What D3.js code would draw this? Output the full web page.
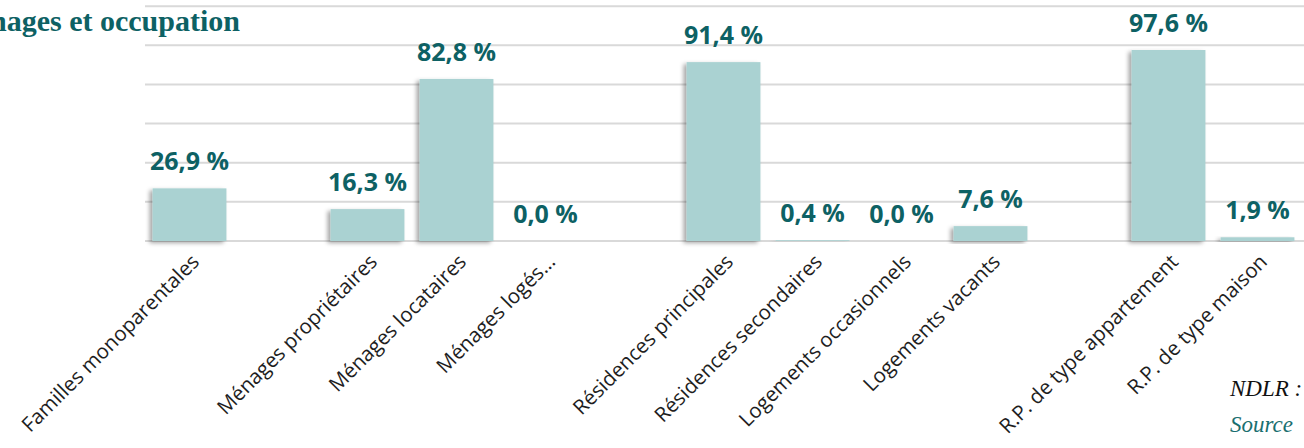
<!DOCTYPE html>
<html>
<head>
<meta charset="utf-8">
<script src="https://cdn.jsdelivr.net/npm/d3@7"></script>
<style>
  body { margin: 0; background: #fff; overflow: hidden; }
  svg { display: block; }
</style>
</head>
<body>
<div id="main"></div>
<script>
// Data
const categories = ['Familles monoparentales', null, 'Ménages propriétaires', 'Ménages locataires', 'Ménages logés…', null,
  'Résidences principales', 'Résidences secondaires', 'Logements occasionnels', 'Logements vacants', null,
  'R.P. de type appartement', 'R.P. de type maison'];
const values = [26.9, null, 16.3, 82.8, 0.0, null, 91.4, 0.4, 0.0, 7.6, null, 97.6, 1.9];
const gridTicks = [0, 20, 40, 60, 80, 100, 120];

const w = 1304;
const h = 448;
const base = 241;

const svg = d3.select('#main')
  .append('svg')
  .attr('width', w)
  .attr('height', h);

const defs = svg.append('defs');
const shadow = defs.append('filter').attr('id', 'shadow')
  .attr('x', '-20%').attr('y', '-20%').attr('width', '140%').attr('height', '140%');
shadow.append('feDropShadow')
  .attr('dx', -3).attr('dy', 2).attr('stdDeviation', 2)
  .attr('flood-color', '#000').attr('flood-opacity', 0.35);

const xScale = d3.scaleBand()
  .domain(d3.range(categories.length))
  .range([145, 1302])
  .paddingInner(0.17)
  .paddingOuter(0.085);

const yScale = d3.scaleLinear()
  .domain([0, 120])
  .range([base, base - 120 * 1.957]);

// gridlines
svg.append('g').selectAll('line')
  .data(gridTicks)
  .enter()
  .append('line')
  .attr('x1', 145)
  .attr('x2', w)
  .attr('y1', (d) => yScale(d))
  .attr('y2', (d) => yScale(d))
  .style('stroke', '#d9d9d9')
  .style('stroke-width', 2);

const items = categories.map((c, i) => ({ i: i, name: c, v: values[i] })).filter((d) => d.name !== null);

svg.append('g').selectAll('rect')
  .data(items)
  .enter()
  .append('rect')
  .attr('x', (d) => xScale(d.i))
  .attr('y', (d) => yScale(d.v))
  .attr('width', xScale.bandwidth())
  .attr('height', (d) => base - yScale(d.v))
  .style('fill', '#aad2d2')
  .attr('filter', 'url(#shadow)');

svg.append('g').selectAll('text')
  .data(items)
  .enter()
  .append('text')
  .attr('x', (d) => xScale(d.i) + xScale.bandwidth() / 2)
  .attr('y', (d) => yScale(d.v) - 18)
  .attr('text-anchor', 'middle')
  .style('font-family', '"Open Sans", sans-serif')
  .style('font-weight', 'bold')
  .style('font-size', '25px')
  .style('fill', '#0d6164')
  .text((d) => d3.format('.1f')(d.v).replace('.', ',') + ' %');

// category labels
svg.append('g').selectAll('text')
  .data(items)
  .enter()
  .append('text')
  .attr('transform', (d) => `translate(${xScale(d.i) + xScale.bandwidth() / 2 + 11}, 263) rotate(-45)`)
  .attr('text-anchor', 'end')
  .style('font-family', '"Open Sans", sans-serif')
  .style('font-size', '20.5px')
  .style('fill', '#1e1e1e')
  .text((d) => d.name);

// title, cut at the left edge
svg.append('text')
  .attr('x', 240)
  .attr('y', 31)
  .attr('text-anchor', 'end')
  .style('font-family', '"Liberation Serif", serif')
  .style('font-weight', 'bold')
  .style('font-size', '30px')
  .style('fill', '#0d6164')
  .text('Ménages et occupation');

svg.append('text')
  .attr('x', 1230)
  .attr('y', 396)
  .style('font-family', '"Liberation Serif", serif')
  .style('font-style', 'italic')
  .style('font-size', '23px')
  .style('fill', '#111')
  .text('NDLR :');

svg.append('text')
  .attr('x', 1230)
  .attr('y', 432)
  .style('font-family', '"Liberation Serif", serif')
  .style('font-style', 'italic')
  .style('font-size', '23px')
  .style('fill', '#1a6f70')
  .text('Source');
</script>
</body>
</html>
